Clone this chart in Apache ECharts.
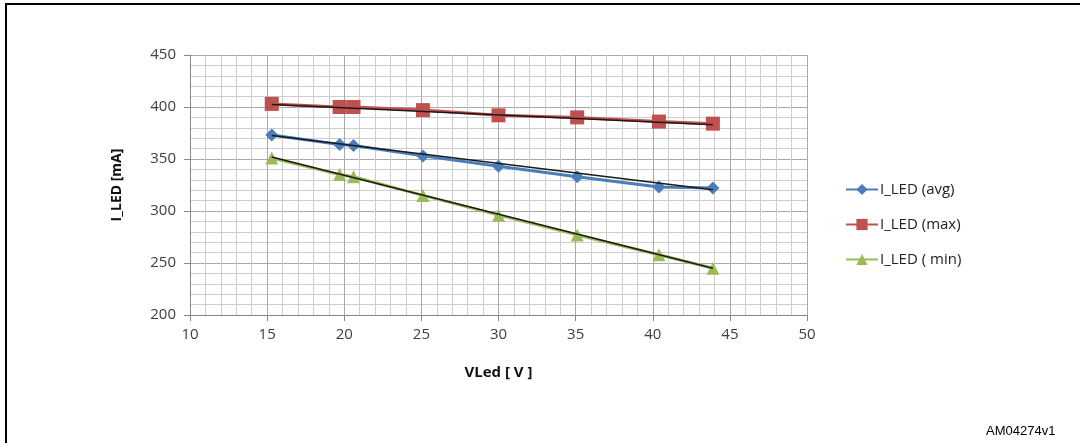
<!DOCTYPE html>
<html><head><meta charset="utf-8">
<script src="https://cdn.jsdelivr.net/npm/echarts@6/dist/echarts.min.js"></script>
<style>html,body{margin:0;padding:0;background:#fff}#c{width:1080px;height:443px}</style>
</head><body><div id="c"></div>
<script>
const vled = [15.3, 19.7, 20.6, 25.1, 30.0, 35.1, 40.4, 43.9];
const iAvg = [373, 364, 363, 353, 343, 333, 323, 322];
const iMax = [403, 400, 400, 397, 392, 390, 386, 384];
const iMin = [351, 335, 333, 315, 296, 277, 258, 245];
const trendX = [15.3, 43.9];
const trendAvg = [372.5, 320.5];
const trendMax = [402.5, 383];
const trendMin = [352, 245];
const xTicks = [10, 15, 20, 25, 30, 35, 40, 45, 50];
const yTicks = [200, 250, 300, 350, 400, 450];
const names = ['I_LED (avg)', 'I_LED (max)', 'I_LED ( min)'];

const pair = (xs, ys) => xs.map((x, i) => [x, ys[i]]);
const font = '"Open Sans", "Noto Sans", sans-serif';

const chart = echarts.init(document.getElementById('c'), null, {renderer: 'canvas'});
function mkSeries(name, ys, color, symbol, size) {
  return {name, type: 'line', data: pair(vled, ys), symbol, symbolSize: size,
    lineStyle: {color, width: 3}, itemStyle: {color}, z: 3, animation: false};
}
function mkTrend(ys) {
  return {name: 'trend', type: 'line', data: pair(trendX, ys), symbol: 'none',
    lineStyle: {color: '#1a1a1a', width: 1.5}, z: 4, animation: false, silent: true};
}
chart.setOption({
  animation: false,
  grid: {left: 190, right: 273, top: 55, bottom: 128},
  legend: {
    data: names, orient: 'vertical', left: 845, top: 182, itemGap: 20,
    itemWidth: 32, itemHeight: 14, padding: 0,
    textStyle: {fontFamily: font, fontSize: 15, color: '#222', padding: [0, 0, 0, -3]}
  },
  xAxis: {
    type: 'value', min: xTicks[0], max: xTicks[xTicks.length - 1], interval: 5,
    name: 'VLed [ V ]', nameLocation: 'middle', nameGap: 50,
    nameTextStyle: {fontFamily: font, fontSize: 15, fontWeight: 'bold', color: '#111'},
    axisLine: {show: true, onZero: false, lineStyle: {color: '#888', width: 1}},
    axisTick: {show: true, length: 6, lineStyle: {color: '#888'}},
    axisLabel: {fontFamily: font, fontSize: 15, color: '#404040', margin: 12},
    minorTick: {show: false, splitNumber: 5},
    splitLine: {show: true, lineStyle: {color: '#a8a8a8', width: 1}},
    minorSplitLine: {show: true, lineStyle: {color: '#cdcdcd', width: 1}}
  },
  yAxis: {
    type: 'value', min: yTicks[0], max: yTicks[yTicks.length - 1], interval: 50,
    name: 'I_LED [mA]', nameLocation: 'middle', nameGap: 66, nameRotate: 90,
    nameTextStyle: {fontFamily: font, fontSize: 14, fontWeight: 'bold', color: '#111'},
    axisLine: {show: true, lineStyle: {color: '#888', width: 1}},
    axisTick: {show: true, length: 6, lineStyle: {color: '#888'}},
    axisLabel: {fontFamily: font, fontSize: 15, color: '#404040', margin: 14},
    minorTick: {show: false, splitNumber: 5},
    splitLine: {show: true, lineStyle: {color: '#a8a8a8', width: 1}},
    minorSplitLine: {show: true, lineStyle: {color: '#cdcdcd', width: 1}}
  },
  series: [
    mkSeries(names[0], iAvg, '#4a7ebb', 'diamond', 13),
    mkSeries(names[1], iMax, '#c0504d', 'rect', 14),
    mkSeries(names[2], iMin, '#9bbb59', 'triangle', 13),
    mkTrend(trendAvg), mkTrend(trendMax), mkTrend(trendMin)
  ],
  graphic: [
    {type: 'polyline', shape: {points: [[6, 443], [6, 4], [1080, 4]]},
     style: {stroke: '#000', lineWidth: 2, fill: null}, z: 10},
    {type: 'text', left: 986, top: 425,
     style: {text: 'AM04274v1', font: '13px "Liberation Sans", Arial, sans-serif', fill: '#000'}}
  ]
});
</script></body></html>
